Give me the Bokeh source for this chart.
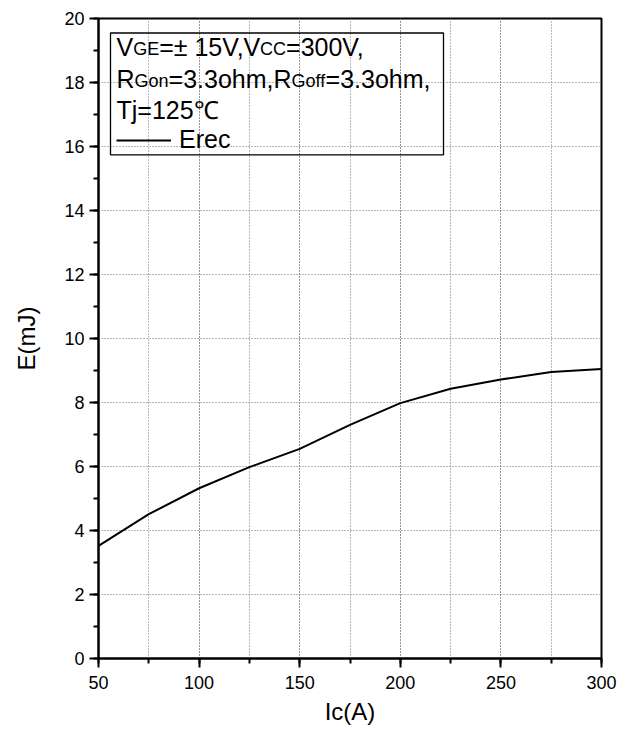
from bokeh.plotting import figure
from bokeh.models import (Range1d, SingleIntervalTicker, Label, BoxAnnotation,
                          Legend, LegendItem)
from bokeh.embed import file_html
from bokeh.resources import INLINE

# Reverse-recovery energy vs collector current
ic_amps = [50, 75, 100, 125, 150, 175, 200, 225, 250, 275, 300]
erec_mj = [3.52, 4.51, 5.32, 5.98, 6.55, 7.30, 7.98, 8.43, 8.72, 8.95, 9.05]

x_ticks = [50, 100, 150, 200, 250, 300]
y_ticks = [0, 2, 4, 6, 8, 10, 12, 14, 16, 18, 20]

# test-condition lines: (text, is_small) runs
cond_lines = [
    [("V", False), ("GE", True), ("=\u00b1 15V,V", False), ("CC", True), ("=300V,", False)],
    [("R", False), ("Gon", True), ("=3.3ohm,R", False), ("Goff", True), ("=3.3ohm,", False)],
    [("Tj=125\u2103", False)],
]

W, H = 626, 730
LEFT, RIGHT, TOP, BOTTOM = 98, 25, 18, 72
FONT = "Liberation Sans"
BIG, SMALL = 25, 18
DESCENT = 0.212  # Liberation Sans descent, em

X0, X1, Y0, Y1 = 50, 300, 0, 20
fw, fh = W - LEFT - RIGHT, H - TOP - BOTTOM


def dx(px):
    """canvas pixel x -> data x"""
    return X0 + (px - LEFT) * (X1 - X0) / fw


def dy(py):
    """canvas pixel y (from top) -> data y"""
    return Y0 + (H - BOTTOM - py) * (Y1 - Y0) / fh


# Liberation Sans advance widths (em) for the characters used in the box
ADV = {"V": .667, "G": .778, "E": .667, "=": .584, "\u00b1": .584, " ": .278,
       "1": .556, "5": .556, ",": .278, "C": .722, "3": .556, "0": .556,
       "R": .722, "o": .556, "n": .556, ".": .278, "h": .556, "m": .833,
       "f": .278, "T": .611, "j": .222, "2": .556, "\u2103": 1.0}
KERN = {"V,": -.135, ",V": 0.0}


def run_width(s, size):
    w = sum(ADV.get(c, .556) for c in s)
    w += sum(KERN.get(s[i:i + 2], 0.0) for i in range(len(s) - 1))
    return w * size


p = figure(width=W, height=H, output_backend="svg", toolbar_location=None,
           x_range=Range1d(X0, X1), y_range=Range1d(Y0, Y1),
           min_border_left=LEFT, min_border_right=RIGHT,
           min_border_top=TOP, min_border_bottom=BOTTOM,
           background_fill_color="white", border_fill_color="white")

curve = p.line(ic_amps, erec_mj, line_color="black", line_width=2)

# axes
p.xaxis.ticker = SingleIntervalTicker(interval=50, num_minor_ticks=2)
p.yaxis.ticker = SingleIntervalTicker(interval=2, num_minor_ticks=2)
p.xaxis.major_label_overrides = {v: str(v) for v in x_ticks}
p.yaxis.major_label_overrides = {v: str(v) for v in y_ticks}
p.xaxis.axis_label = "Ic(A)"
p.yaxis.axis_label = "E(mJ)"
for ax in (p.xaxis, p.yaxis):
    ax.axis_line_width = 2
    ax.axis_line_color = "black"
    ax.major_tick_in = 0
    ax.major_tick_out = 9
    ax.minor_tick_in = 0
    ax.minor_tick_out = 5
    ax.major_tick_line_width = 2
    ax.minor_tick_line_width = 2
    ax.major_tick_line_color = "black"
    ax.minor_tick_line_color = "black"
    ax.major_label_text_font = FONT
    ax.major_label_text_font_size = "18px"
    ax.major_label_text_color = "black"
    ax.axis_label_text_font = FONT
    ax.axis_label_text_font_size = "24px"
    ax.axis_label_text_font_style = "normal"
    ax.axis_label_text_color = "black"
p.xaxis.major_label_standoff = 8
p.yaxis.major_label_standoff = 5
p.xaxis.axis_label_standoff = 6
p.yaxis.axis_label_standoff = 21

# dotted grid: every 25 A vertically, every 2 mJ horizontally
p.xgrid.grid_line_color = "#707070"
p.xgrid.grid_line_dash = "1 2"
p.xgrid.minor_grid_line_color = "#707070"
p.xgrid.minor_grid_line_dash = "1 2"
p.ygrid.grid_line_color = "#707070"
p.ygrid.grid_line_dash = "1 2"

p.outline_line_color = "black"
p.outline_line_width = 2
p.outline_line_alpha = 1.0

# condition box
box = BoxAnnotation(left=dx(110), right=dx(443), top=dy(32.5), bottom=dy(154.3),
                    fill_alpha=0, line_color="black", line_alpha=1.0,
                    line_width=1.3)
p.add_layout(box)

# each run sits on a shared baseline: anchor by its bottom edge
baselines = [55, 87, 118]
for runs, base in zip(cond_lines, baselines):
    xpx = 116
    for text, small in runs:
        size = SMALL if small else BIG
        p.add_layout(Label(x=dx(xpx), y=dy(base + DESCENT * size), text=text,
                           text_font=FONT, text_font_size=f"{size}px",
                           text_color="black", text_align="left",
                           text_baseline="bottom"))
        xpx += run_width(text, size)

leg = Legend(items=[LegendItem(label="Erec", renderers=[curve])],
             location=(18, 504), padding=0, margin=0, spacing=0,
             glyph_width=55, glyph_height=24, label_height=24, label_standoff=8,
             label_text_font=FONT, label_text_font_size=f"{BIG}px",
             label_text_color="black", border_line_color=None,
             background_fill_alpha=0)
p.add_layout(leg)

open("out.html", "w").write(file_html(p, INLINE))
